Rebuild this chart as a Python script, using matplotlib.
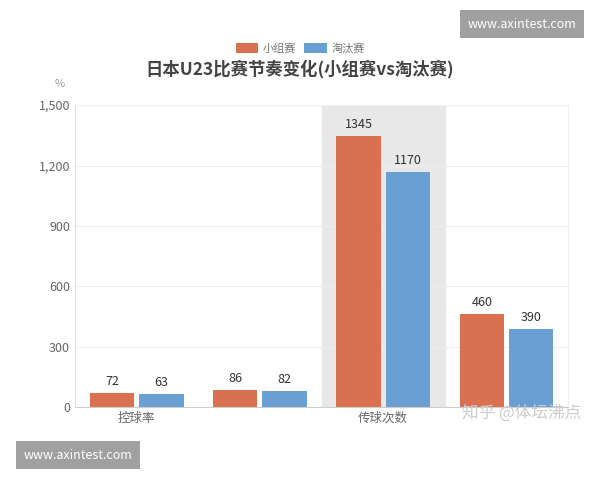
import matplotlib
matplotlib.use("Agg")
import matplotlib.pyplot as plt
import numpy as np

plt.rcParams['font.family'] = ['Noto Sans CJK SC', 'DejaVu Sans']

categories = ['控球率', '', '传球次数', '']
group = [72, 86, 1345, 460]
knockout = [63, 82, 1170, 390]
series_names = ['小组赛', '淘汰赛']
yticks = [0, 300, 600, 900, 1200, 1500]

c1, c2 = '#d9704f', '#6a9fd3'
fig = plt.figure(figsize=(6, 4.8), dpi=100)
ax = fig.add_axes([0.125, 0.152, 0.822, 0.629])
x = np.arange(len(categories))
w = 0.36
ax.axvspan(1.5, 2.5, color='#e8e8e8', zorder=0)
b1 = ax.bar(x - 0.2, group, w, color=c1, zorder=2, label=series_names[0])
b2 = ax.bar(x + 0.2, knockout, w, color=c2, zorder=2, label=series_names[1])
for bars, vals in ((b1, group), (b2, knockout)):
    for r, v in zip(bars, vals):
        ax.text(r.get_x() + r.get_width()/2, v + 25, str(v), ha='center', va='bottom', fontsize=9, color='#333333')
ax.set_xlim(-0.5, 3.5)
ax.set_ylim(0, 1500)
ax.set_yticks(yticks)
ax.set_yticklabels([f'{v:,}' for v in yticks], color='#666666', fontsize=9)
ax.set_xticks(x)
ax.set_xticklabels(categories, color='#666666', fontsize=9)
ax.tick_params(length=0)
ax.grid(axis='y', color='#eeeeee', zorder=1)
for s in ['top', 'right']:
    ax.spines[s].set_color('#f0f0f0')
ax.spines['left'].set_color('#dddddd')
ax.spines['bottom'].set_color('#cccccc')
ax.text(-0.02, 1.06, '%', transform=ax.transAxes, color='#999999', fontsize=8, ha='right')
fig.text(0.5, 0.845, '日本U23比赛节奏变化(小组赛vs淘汰赛)', ha='center', fontsize=12.5, fontweight='bold', color='#444444')
fig.legend(loc='center', bbox_to_anchor=(0.5, 0.9), ncol=2, frameon=False, fontsize=8,
           handlelength=2, handleheight=1, columnspacing=0.8, handletextpad=0.4, labelcolor='#777777')
fig.text(0.87, 0.95, 'www.axintest.com', ha='center', va='center', color='white', fontsize=9,
         bbox=dict(boxstyle='square,pad=0.6', fc='#a0a0a0', ec='none'))
fig.text(0.13, 0.052, 'www.axintest.com', ha='center', va='center', color='white', fontsize=9,
         bbox=dict(boxstyle='square,pad=0.6', fc='#a0a0a0', ec='none'))
fig.text(0.87, 0.14, '知乎 @体坛沸点', ha='center', va='center', color='#cccccc', fontsize=12)
fig.savefig('out.png', dpi=100, facecolor='white')
